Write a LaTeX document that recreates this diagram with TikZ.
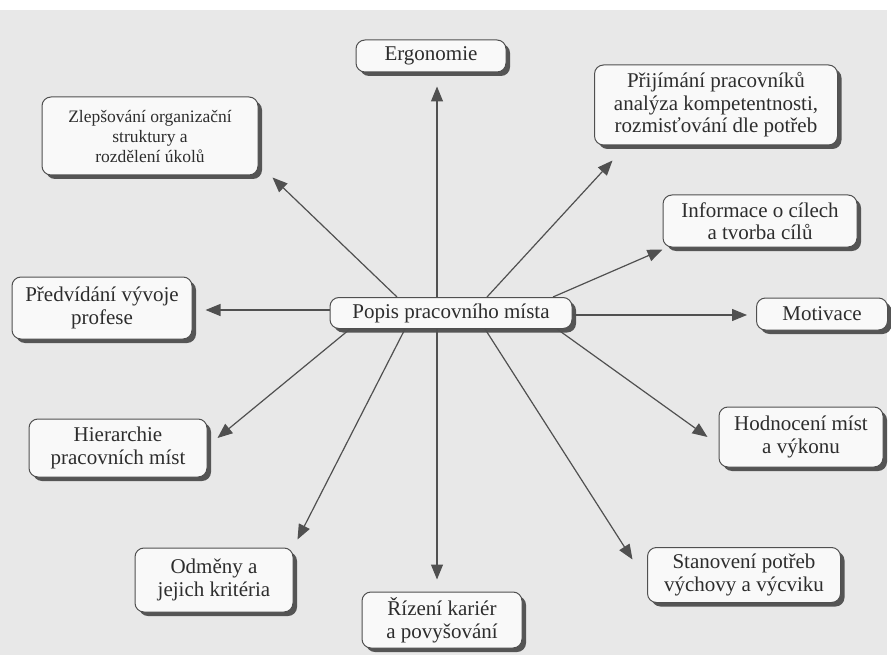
\documentclass[tikz,border=0pt]{standalone}
\usepackage{fontspec}
\setmainfont{Liberation Serif}
\usetikzlibrary{arrows.meta,shadows}
\definecolor{paper}{RGB}{232,232,232}
\definecolor{boxfill}{RGB}{249,249,249}
\definecolor{ink}{RGB}{45,45,45}
\definecolor{boxline}{RGB}{80,80,80}
\definecolor{shade}{RGB}{85,85,85}
\tikzset{
  jobbox/.style={draw=boxline,fill=boxfill,line width=1pt,rounded corners=9pt,
    align=center,text=ink,inner sep=0pt,font=\fontsize{21}{22.5}\selectfont,
    drop shadow={shadow xshift=4pt,shadow yshift=-4pt,fill=shade,opacity=1}},
  link/.style={draw=boxline,line width=1.2pt,-{Triangle[length=15pt,width=12pt]}}
}
\newcommand{\jobnode}[7][]{\node[jobbox,#1,minimum width=#4pt,minimum height=#5pt] (#6) at (#2,#3) {#7};}
\newcommand{\linkedge}[2]{\draw[link] (#1) -- (#2);}
\begin{document}
\begin{tikzpicture}[x=1pt,y=-1pt]
	\useasboundingbox (0,0) rectangle (891,655);
	\fill[white] (0,0) rectangle (891,655);
	\fill[paper] (0,10) rectangle (887,655);
	\jobnode{451}{313}{242}{31}{popis}{Popis pracovního místa}
	\jobnode{431}{56}{150}{32}{ergo}{Ergonomie}
	\jobnode[font=\fontsize{17.5}{20}\selectfont]{150}{136}{216}{78}{zlep}{Zlepšování organizační\\struktury a\\rozdělení úkolů}
	\jobnode{102}{308}{180}{62}{pred}{Předvídání vývoje\\profese}
	\jobnode{716}{105}{243}{80}{prij}{Přijímání pracovníků\\analýza kompetentnosti,\\rozmisťování dle potřeb}
	\jobnode{760}{221}{194}{52}{info}{Informace o cílech\\a tvorba cílů}
	\jobnode{822}{314}{131}{32}{motiv}{Motivace}
	\jobnode{801}{437}{164}{60}{hodn}{Hodnocení míst\\a výkonu}
	\jobnode{744}{575}{193}{55}{stan}{Stanovení potřeb\\výchovy a výcviku}
	\jobnode{442}{620}{160}{56}{rizeni}{Řízení kariér\\a povyšování}
	\jobnode{214}{580}{158}{64}{odm}{Odměny a\\jejich kritéria}
	\jobnode{118}{448}{178}{58}{hier}{Hierarchie\\pracovních míst}
	\linkedge{[xshift=-14pt]popis.north}{[shift={(6pt,-14pt)}]ergo.south}
	\linkedge{[xshift=-54pt]popis.north}{[shift={(14pt,-2pt)}]zlep.south east}
	\linkedge{[yshift=3pt]popis.west}{[shift={(13pt,-2pt)}]pred.east}
	\linkedge{[xshift=36pt]popis.north}{[shift={(18.5pt,-15pt)}]prij.south west}
	\linkedge{[xshift=102pt]popis.north}{[shift={(0pt,-2pt)}]info.south west}
	\linkedge{[yshift=-2pt]popis.east}{[shift={(-9pt,-1pt)}]motiv.west}
	\linkedge{[xshift=106pt]popis.south}{[shift={(-11pt,0pt)}]hodn.west}
	\linkedge{[xshift=34pt]popis.south}{[shift={(-14.5pt,-12.5pt)}]stan.north west}
	\linkedge{[xshift=-14pt]popis.south}{[shift={(-5pt,12pt)}]rizeni.north}
	\linkedge{[xshift=-46pt]popis.south}{[shift={(4pt,8pt)}]odm.north east}
	\linkedge{[xshift=-101pt]popis.south}{[shift={(10pt,10pt)}]hier.east}
\end{tikzpicture}
\end{document}
